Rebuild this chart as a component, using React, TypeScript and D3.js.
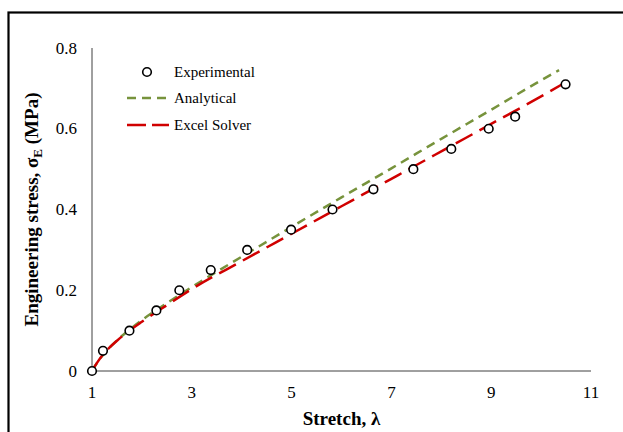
import React from "react";
import * as d3 from "d3";

// experimental points
const expStretch = [1, 1.22, 1.75, 2.29, 2.75, 3.38, 4.11, 4.99, 5.82, 6.64, 7.44, 8.2, 8.95, 9.48, 10.49];
const expStress = [0, 0.05, 0.1, 0.15, 0.2, 0.25, 0.3, 0.35, 0.4, 0.45, 0.5, 0.55, 0.6, 0.63, 0.71];

// analytical curve
const anaStretch = [1, 1.1, 1.25, 1.5, 1.75, 2, 2.5, 3, 4, 5, 6, 7, 8, 9, 10, 10.36];
const anaStress = [0, 0.02, 0.044, 0.076, 0.102, 0.126, 0.168, 0.208, 0.283, 0.357, 0.43, 0.502, 0.575, 0.647, 0.72, 0.745];

// excel solver curve
const solStretch = [1, 1.1, 1.25, 1.5, 1.75, 2, 2.5, 3, 4, 5, 6, 7, 8, 9, 10, 10.45];
const solStress = [0, 0.02, 0.045, 0.075, 0.1, 0.122, 0.163, 0.203, 0.272, 0.34, 0.408, 0.476, 0.544, 0.612, 0.68, 0.712];

const xTicks = [1, 3, 5, 7, 9, 11];
const yTicks = [0, 0.2, 0.4, 0.6, 0.8];

const W = 623;
const H = 432;
const serif = "'Liberation Serif', 'Times New Roman', serif";

export default function App() {
  const x = d3.scaleLinear().domain([1, 11]).range([92, 591]);
  const y = d3.scaleLinear().domain([0, 0.8]).range([371, 48]);

  const line = d3
    .line<[number, number]>()
    .x((d) => x(d[0]))
    .y((d) => y(d[1]))
    .curve(d3.curveMonotoneX);

  const ana = anaStretch.map((v, i) => [v, anaStress[i]] as [number, number]);
  const sol = solStretch.map((v, i) => [v, solStress[i]] as [number, number]);

  const green = "#77933C";
  const red = "#D00000";

  return (
    <div style={{ position: "absolute", left: 0, top: 0 }}>
      <svg width={W} height={H} style={{ display: "block", fontFamily: serif }}>
        <rect x={0} y={0} width={W} height={H} fill="#fff" />
        <rect x={8.5} y={12.5} width={W + 20} height={H + 20} fill="none" stroke="#000" strokeWidth={2.2} />

        {/* axes */}
        <line x1={x(1)} x2={x(1)} y1={y(0)} y2={y(0.8)} stroke="#404040" strokeWidth={1} />
        <line x1={x(1)} x2={x(11)} y1={y(0)} y2={y(0)} stroke="#404040" strokeWidth={1} />

        {yTicks.map((t) => (
          <text key={t} x={77} y={y(t)} textAnchor="end" dominantBaseline="central" fontSize={17} fill="#000">
            {t === 0 ? "0" : t.toFixed(1)}
          </text>
        ))}
        {xTicks.map((t) => (
          <text key={t} x={x(t)} y={392} textAnchor="middle" dominantBaseline="central" fontSize={17} fill="#000">
            {t}
          </text>
        ))}

        {/* axis titles */}
        <text x={(x(1) + x(11)) / 2} y={425} textAnchor="middle" fontSize={19} fontWeight="bold" fill="#000">
          Stretch, λ
        </text>
        <text
          transform={`translate(38, ${(y(0) + y(0.8)) / 2}) rotate(-90)`}
          textAnchor="middle"
          fontSize={19}
          fontWeight="bold"
          fill="#000"
        >
          Engineering stress, σ
          <tspan fontSize={13} dy={4}>E</tspan>
          <tspan dy={-4}> (MPa)</tspan>
        </text>

        {/* series */}
        <path d={line(ana) || ""} fill="none" stroke={green} strokeWidth={2.5} strokeDasharray="9 6" />
        <path d={line(sol) || ""} fill="none" stroke={red} strokeWidth={2.5} strokeDasharray="19 8" />
        {expStretch.map((v, i) => (
          <circle key={i} cx={x(v)} cy={y(expStress[i])} r={4.3} fill="#fff" stroke="#000" strokeWidth={1.6} />
        ))}

        {/* legend */}
        <circle cx={147} cy={72} r={4.3} fill="#fff" stroke="#000" strokeWidth={1.6} />
        <text x={174} y={72} dominantBaseline="central" fontSize={15} fill="#000">Experimental</text>
        <line x1={127} x2={169} y1={98} y2={98} stroke={green} strokeWidth={2.5} strokeDasharray="9 6" />
        <text x={174} y={98} dominantBaseline="central" fontSize={15} fill="#000">Analytical</text>
        <line x1={127} x2={169} y1={125} y2={125} stroke={red} strokeWidth={2.5} strokeDasharray="19 6" />
        <text x={174} y={125} dominantBaseline="central" fontSize={15} fill="#000">Excel Solver</text>
      </svg>
    </div>
  );
}
